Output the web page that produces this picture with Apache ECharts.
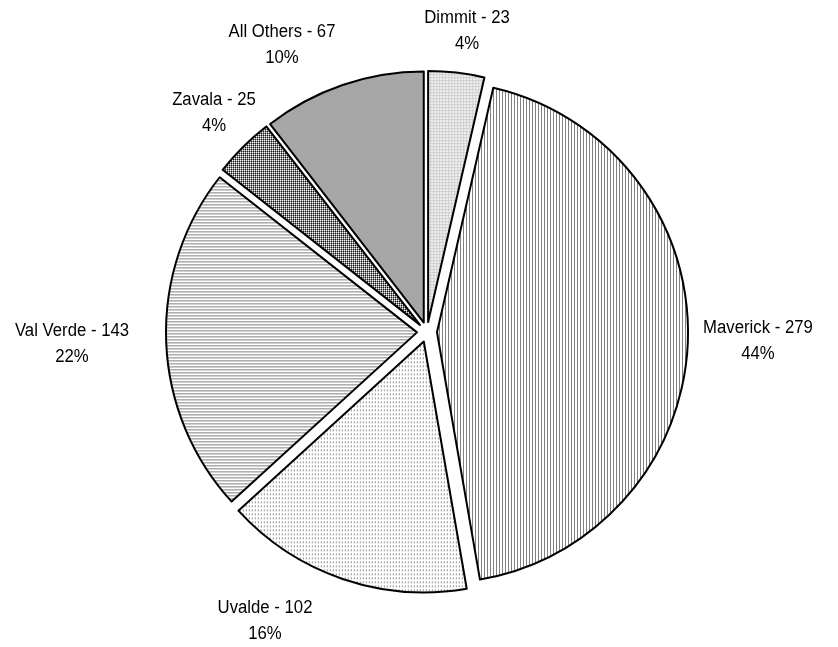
<!DOCTYPE html>
<html>
<head>
<meta charset="utf-8">
<script src="https://cdn.jsdelivr.net/npm/echarts@6/dist/echarts.min.js"></script>
<style>
html,body{margin:0;padding:0;background:#fff;}
#chart{width:838px;height:647px;}
</style>
</head>
<body>
<div id="chart"></div>
<script>
// ---- data ----
const categories = ['Dimmit', 'Maverick', 'Uvalde', 'Val Verde', 'Zavala', 'All Others'];
const values = [23, 279, 102, 143, 25, 67];

// ---- label anchor positions (layout, not data) ----
const labelAnchors = [[467, 31], [758, 341], [265, 621], [72, 344], [214, 113], [282, 45]];

function pattern(w, h, draw) {
  const c = document.createElement('canvas');
  c.width = w; c.height = h;
  const g = c.getContext('2d');
  draw(g, w, h);
  return { image: c, repeat: 'repeat' };
}
function px(g, x, y, col) { g.fillStyle = col; g.fillRect(x, y, 1, 1); }

const fills = [
  pattern(3, 3, (g, w, h) => { g.fillStyle = '#f2f2f2'; g.fillRect(0, 0, w, h);
    g.fillStyle = '#cfcfcf'; g.fillRect(0, 0, w, 1); g.fillRect(0, 0, 1, h); }),
  pattern(3, 1, (g, w, h) => { g.fillStyle = '#fff'; g.fillRect(0, 0, w, h); px(g, 0, 0, '#808080'); }),
  pattern(3, 4, (g, w, h) => { g.fillStyle = '#fff'; g.fillRect(0, 0, w, h); px(g, 0, 0, '#707070'); px(g, 0, 1, '#b0b0b0'); }),
  pattern(1, 3, (g, w, h) => { g.fillStyle = '#fff'; g.fillRect(0, 0, w, h); px(g, 0, 0, '#808080'); }),
  pattern(2, 2, (g, w, h) => { px(g, 0, 0, '#111'); px(g, 1, 0, '#8a8a8a'); px(g, 0, 1, '#8a8a8a'); px(g, 1, 1, '#fff'); }),
  pattern(2, 2, (g, w, h) => { px(g, 0, 0, '#9c9c9c'); px(g, 1, 0, '#b2b2b2'); px(g, 0, 1, '#b2b2b2'); px(g, 1, 1, '#9c9c9c'); })
];

const total = values.reduce((a, b) => a + b, 0);

const pieData = categories.map((name, i) => ({
  name: name,
  value: values[i],
  selected: true,
  itemStyle: { color: fills[i] }
}));

const labelTexts = categories.map((name, i) => ({
  type: 'text',
  x: labelAnchors[i][0],
  y: labelAnchors[i][1],
  scaleX: 0.93,
  silent: true,
  style: {
    text: name + ' - ' + values[i] + '\n' + Math.round(values[i] / total * 100) + '%',
    fontFamily: 'Liberation Sans, Arial, sans-serif',
    fontSize: 18,
    lineHeight: 26,
    fill: '#000',
    align: 'center',
    verticalAlign: 'middle'
  }
}));

const chart = echarts.init(document.getElementById('chart'), null, { renderer: 'canvas' });
chart.setOption({
  animation: false,
  backgroundColor: '#fff',
  graphic: labelTexts,
  series: [{
    type: 'pie',
    center: [427, 332],
    radius: 251,
    startAngle: 90,
    clockwise: true,
    selectedMode: 'multiple',
    selectedOffset: 10,
    data: pieData,
    itemStyle: { borderColor: '#000', borderWidth: 2 },
    select: { itemStyle: { borderColor: '#000', borderWidth: 2 } },
    emphasis: { disabled: true },
    label: { show: false },
    labelLine: { show: false }
  }]
});
</script>
</body>
</html>
